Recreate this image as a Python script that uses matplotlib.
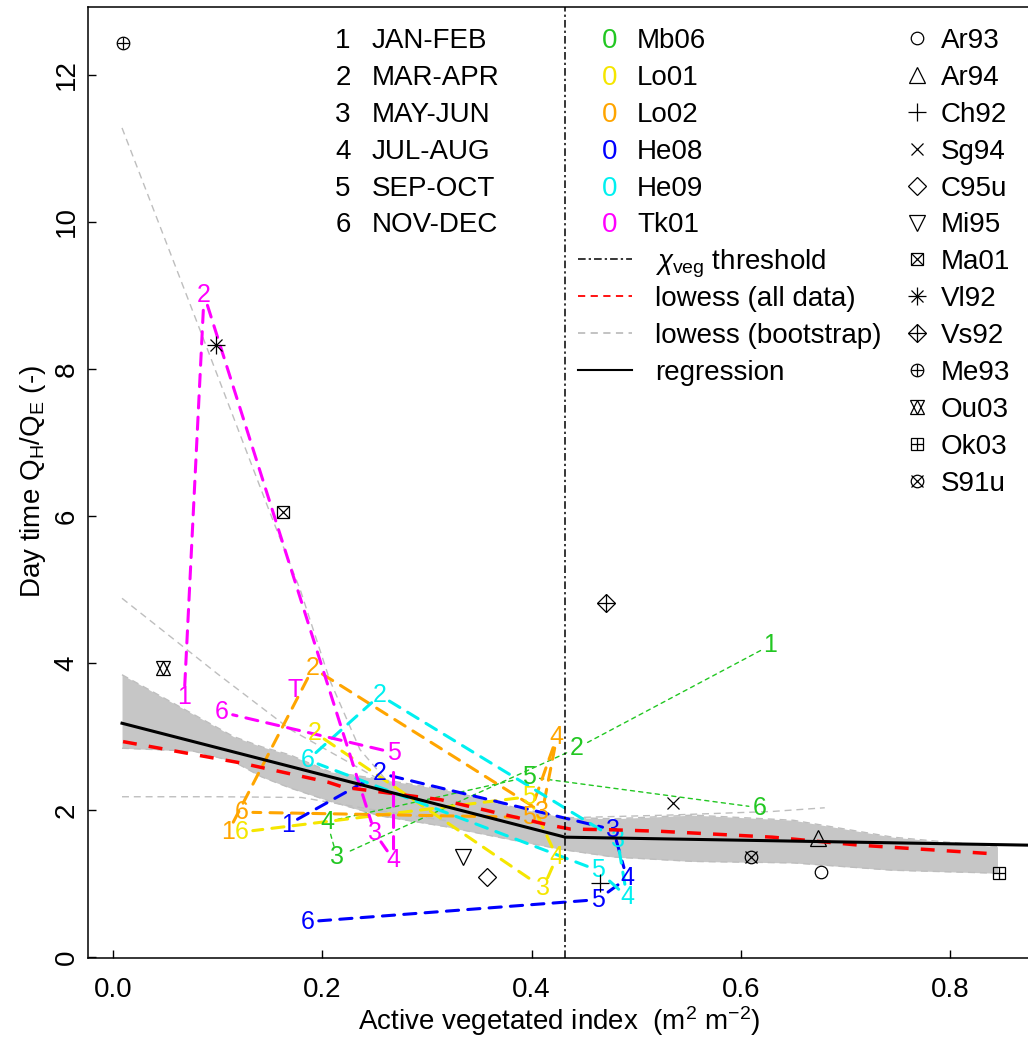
import matplotlib
matplotlib.use('Agg')
import matplotlib.pyplot as plt
from matplotlib.lines import Line2D

plt.rcParams['font.family'] = ['Liberation Sans', 'DejaVu Sans']
plt.rcParams['mathtext.fontset'] = 'custom'
plt.rcParams['mathtext.rm'] = 'Liberation Sans'
plt.rcParams['mathtext.it'] = 'Liberation Sans:italic'
plt.rcParams['mathtext.bf'] = 'Liberation Sans:bold'

# ---------------- data ----------------
period_codes = ['1', '2', '3', '4', '5', '6']
period_names = ['JAN-FEB', 'MAR-APR', 'MAY-JUN', 'JUL-AUG', 'SEP-OCT', 'NOV-DEC']

site_names = ['Mb06', 'Lo01', 'Lo02', 'He08', 'He09', 'Tk01']
site_colors = ['#22C722', '#F5E600', '#FFA500', '#0000FF', '#00F0F0', '#FF00FF']

# period labels in drawing order with x, y for each site
mb06_lab = [1, 2, 3, 4, 5, 6]
mb06_x = [0.628, 0.443, 0.214, 0.2045, 0.397, 0.618]
mb06_y = [4.24, 2.84, 1.36, 1.84, 2.45, 2.03]
lo01_lab = [2, 3, 4, 5, 6]
lo01_x = [0.193, 0.411, 0.424, 0.397, 0.123]
lo01_y = [3.05, 0.94, 1.36, 2.18, 1.70]
lo02_lab = [1, 2, 3, 4, 5, 6]
lo02_x = [0.110, 0.191, 0.410, 0.424, 0.397, 0.123]
lo02_y = [1.70, 3.93, 1.97, 2.99, 1.90, 1.97]
he08_lab = [1, 2, 3, 4, 5, 6]
he08_x = [0.167, 0.255, 0.478, 0.491, 0.463, 0.186]
he08_y = [1.80, 2.50, 1.73, 1.07, 0.78, 0.48]
he09_lab = [6, 2, 3, 4, 5, 6]
he09_x = [0.186, 0.255, 0.482, 0.491, 0.463, 0.186]
he09_y = [2.68, 3.56, 1.59, 0.82, 1.18, 2.68]
tk01_lab = [1, 2, 3, 4, 5, 6]
tk01_x = [0.068, 0.087, 0.250, 0.268, 0.268, 0.104]
tk01_y = [3.54, 9.01, 1.69, 1.32, 2.78, 3.33]
tk01_extra_text = 'T'
tk01_extra_x = 0.174
tk01_extra_y = 3.63

# single-site observations
pt_names = ['Ar93', 'Ar94', 'Ch92', 'Sg94', 'C95u', 'Mi95', 'Ma01', 'Vl92',
            'Vs92', 'Me93', 'Ou03', 'Ok03', 'S91u']
pt_x = [0.676, 0.674, 0.465, 0.535, 0.357, 0.334, 0.162, 0.098,
        0.471, 0.0096, 0.048, 0.846, 0.610]
pt_y = [1.16, 1.62, 1.01, 2.10, 1.09, 1.36, 6.06, 8.33,
        4.82, 12.43, 3.93, 1.14, 1.36]

# lowess on all data
lowess_x = [0.0096, 0.122, 0.205, 0.22, 0.313, 0.415, 0.437, 0.478, 0.523, 0.63, 0.714, 0.845]
lowess_y = [2.93, 2.64, 2.38, 2.31, 2.14, 1.80, 1.74, 1.73, 1.71, 1.63, 1.52, 1.40]

# bootstrap lowess envelope and outlying bootstrap curves
band_x = [0.0086, 0.077, 0.115, 0.142, 0.169, 0.207, 0.255, 0.319, 0.382, 0.43,
          0.478, 0.554, 0.65, 0.745, 0.845]
band_hi = [3.84, 3.30, 3.00, 2.86, 2.75, 2.52, 2.42, 2.27, 2.04, 1.90,
           1.88, 1.93, 1.86, 1.63, 1.50]
band_lo = [2.84, 2.80, 2.66, 2.45, 2.30, 2.12, 1.92, 1.77, 1.59, 1.46,
           1.36, 1.30, 1.28, 1.18, 1.14]
boot_a_x = [0.0086, 0.088, 0.149, 0.179, 0.207, 0.236, 0.265]
boot_a_y = [11.28, 8.35, 6.08, 4.99, 3.77, 2.82, 2.34]
boot_b_x = [0.0086, 0.10, 0.17, 0.20, 0.25]
boot_b_y = [4.88, 3.85, 3.09, 2.85, 2.45]
boot_c_x = [0.0086, 0.10, 0.18, 0.25, 0.32]
boot_c_y = [2.18, 2.18, 2.17, 2.00, 1.85]
boot_d_x = [0.45, 0.53, 0.63, 0.68]
boot_d_y = [1.90, 1.93, 1.98, 2.03]

# piecewise regression and threshold
reg_x = [0.0086, 0.432, 0.88]
reg_y = [3.18, 1.63, 1.52]
threshold_x = 0.432

x_ticks = [0.0, 0.2, 0.4, 0.6, 0.8]
x_ticklabels = ['0.0', '0.2', '0.4', '0.6', '0.8']
y_ticks = [0, 2, 4, 6, 8, 10, 12]
y_ticklabels = ['0', '2', '4', '6', '8', '10', '12']

# ---------------- figure ----------------
W, H = 1028, 1038
fig = plt.figure(figsize=(W / 100, H / 100), dpi=100)
ax = fig.add_axes([88 / W, 1 - 958 / H, (1032 - 88) / W, (958 - 7) / H])
ax.set_xlim(-0.0239, 0.878)
ax.set_ylim(-0.014, 12.925)


def fx(px):
    return px / W


def fy(py):
    return 1 - py / H


GREY = '#BEBEBE'
grey_ls = (0, (5, 3.5))

# bootstrap envelope
ax.fill_between(band_x, band_lo, band_hi, color='#C6C6C6', lw=0, zorder=1)
for bx, by in [(band_x, band_hi), (band_x, band_lo), (boot_a_x, boot_a_y),
               (boot_b_x, boot_b_y), (boot_c_x, boot_c_y), (boot_d_x, boot_d_y)]:
    ax.plot(bx, by, color=GREY, lw=1.0, ls=grey_ls, zorder=1.5)

# site trajectories
site_data = [(mb06_lab, mb06_x, mb06_y), (lo01_lab, lo01_x, lo01_y),
             (lo02_lab, lo02_x, lo02_y), (he08_lab, he08_x, he08_y),
             (he09_lab, he09_x, he09_y), (tk01_lab, tk01_x, tk01_y)]
for i, (lab, xs, ys) in enumerate(site_data):
    col = site_colors[i]
    if i == 0:
        lw, ls = 1.0, (0, (3, 3))
    else:
        lw, ls = 2.2, (0, (4, 3))
    for k in range(len(xs) - 1):
        ax.annotate('', xy=(xs[k + 1], ys[k + 1]), xytext=(xs[k], ys[k]),
                    arrowprops=dict(arrowstyle='-', color=col, lw=lw, linestyle=ls,
                                    shrinkA=8, shrinkB=8),
                    zorder=2)
    seen = set()
    for k in range(len(xs)):
        if lab[k] in seen:
            continue
        seen.add(lab[k])
        ax.text(xs[k], ys[k], str(lab[k]), color=col, fontsize=18,
                ha='center', va='center', zorder=3)
ax.text(tk01_extra_x, tk01_extra_y, tk01_extra_text, color=site_colors[5], fontsize=18,
        ha='center', va='center', zorder=3)

# marker definitions (R pch 1..13 look-alikes)
d = 9.0
marker_parts = {
    'Ar93': [('o', d)],
    'Ar94': [('^', 1.3 * d)],
    'Ch92': [('+', 1.414 * d)],
    'Sg94': [('x', d)],
    'C95u': [('D', d)],
    'Mi95': [('v', 1.3 * d)],
    'Ma01': [('s', d), ('x', d)],
    'Vl92': [('+', 1.414 * d), ('x', d)],
    'Vs92': [('D', d), ('+', 1.414 * d)],
    'Me93': [('o', d), ('+', d)],
    'Ou03': [('^', 1.15 * d), ('v', 1.15 * d)],
    'Ok03': [('s', d), ('+', d)],
    'S91u': [('o', d), ('x', d)],
}


def draw_marker(name, x, y, **kw):
    for m, ms in marker_parts[name]:
        ax.plot([x], [y], marker=m, ms=ms, mfc='none', mec='black', mew=0.9,
                ls='none', **kw)


for n, x, y in zip(pt_names, pt_x, pt_y):
    draw_marker(n, x, y, zorder=4)

# lowess, regression, threshold
ax.plot(lowess_x, lowess_y, color='#FF0000', lw=2.5, ls=(0, (4, 3.5)), zorder=5)
ax.plot(reg_x, reg_y, color='black', lw=2.2, zorder=6)
ax.axvline(threshold_x, color='black', lw=1.1, ls=(0, (5, 2, 1.5, 2)), zorder=5)

# axes styling
for s in ax.spines.values():
    s.set_linewidth(1.1)
ax.set_xticks(x_ticks)
ax.set_xticklabels(x_ticklabels, fontsize=20)
ax.set_yticks(y_ticks)
ax.set_yticklabels(y_ticklabels, fontsize=20, rotation=90, va='center')
ax.tick_params(axis='x', direction='in', length=6, width=1.0, pad=14)
ax.tick_params(axis='y', direction='in', length=6, width=1.0, pad=6)

fig.text(fx(559), fy(1030), r'Active vegetated index  (m$^{\mathregular{2}}$ m$^{\mathregular{-2}}$)',
         fontsize=20, ha='center', va='baseline')
fig.text(fx(40), fy(482), r'Day time Q$_{\mathregular{H}}$/Q$_{\mathregular{E}}$ (-)',
         fontsize=20, rotation=90, rotation_mode='anchor', ha='center', va='baseline')

# ---------------- legends ----------------
FS = 20
row0, drow = 38, 36.9
for i, (c, nm) in enumerate(zip(period_codes, period_names)):
    yb = fy(row0 + drow * i + 10)
    fig.text(fx(343), yb, c, fontsize=FS, ha='center', va='baseline')
    fig.text(fx(372), yb, nm, fontsize=FS, ha='left', va='baseline')

for i, (nm, col) in enumerate(zip(site_names, site_colors)):
    yb = fy(row0 + drow * i + 10)
    fig.text(fx(610), yb, '0', fontsize=FS, color=col, ha='center', va='baseline')
    fig.text(fx(637), yb, nm, fontsize=FS, ha='left', va='baseline')

line_items = [
    (dict(color='black', lw=1.1, ls=(0, (5, 2, 1.5, 2))), r'$\chi_{\mathregular{veg}}$ threshold'),
    (dict(color='#FF0000', lw=1.3, ls=(0, (4, 3))), 'lowess (all data)'),
    (dict(color=GREY, lw=1.3, ls=(0, (4, 3))), 'lowess (bootstrap)'),
    (dict(color='black', lw=1.5, ls='-'), 'regression'),
]
for j, (sty, lab) in enumerate(line_items):
    r = row0 + drow * (6 + j)
    fig.add_artist(Line2D([fx(578), fx(632)], [fy(r), fy(r)], transform=fig.transFigure, **sty))
    fig.text(fx(655), fy(r + 10), lab, fontsize=FS, ha='left', va='baseline')

for i, nm in enumerate(pt_names):
    r = row0 + drow * i
    for m, ms in marker_parts[nm]:
        fig.add_artist(Line2D([fx(917)], [fy(r)], transform=fig.transFigure, marker=m, ms=ms,
                              mfc='none', mec='black', mew=0.9, ls='none'))
    fig.text(fx(941), fy(r + 10), nm, fontsize=FS, ha='left', va='baseline')

fig.savefig('out.png', dpi=100)
